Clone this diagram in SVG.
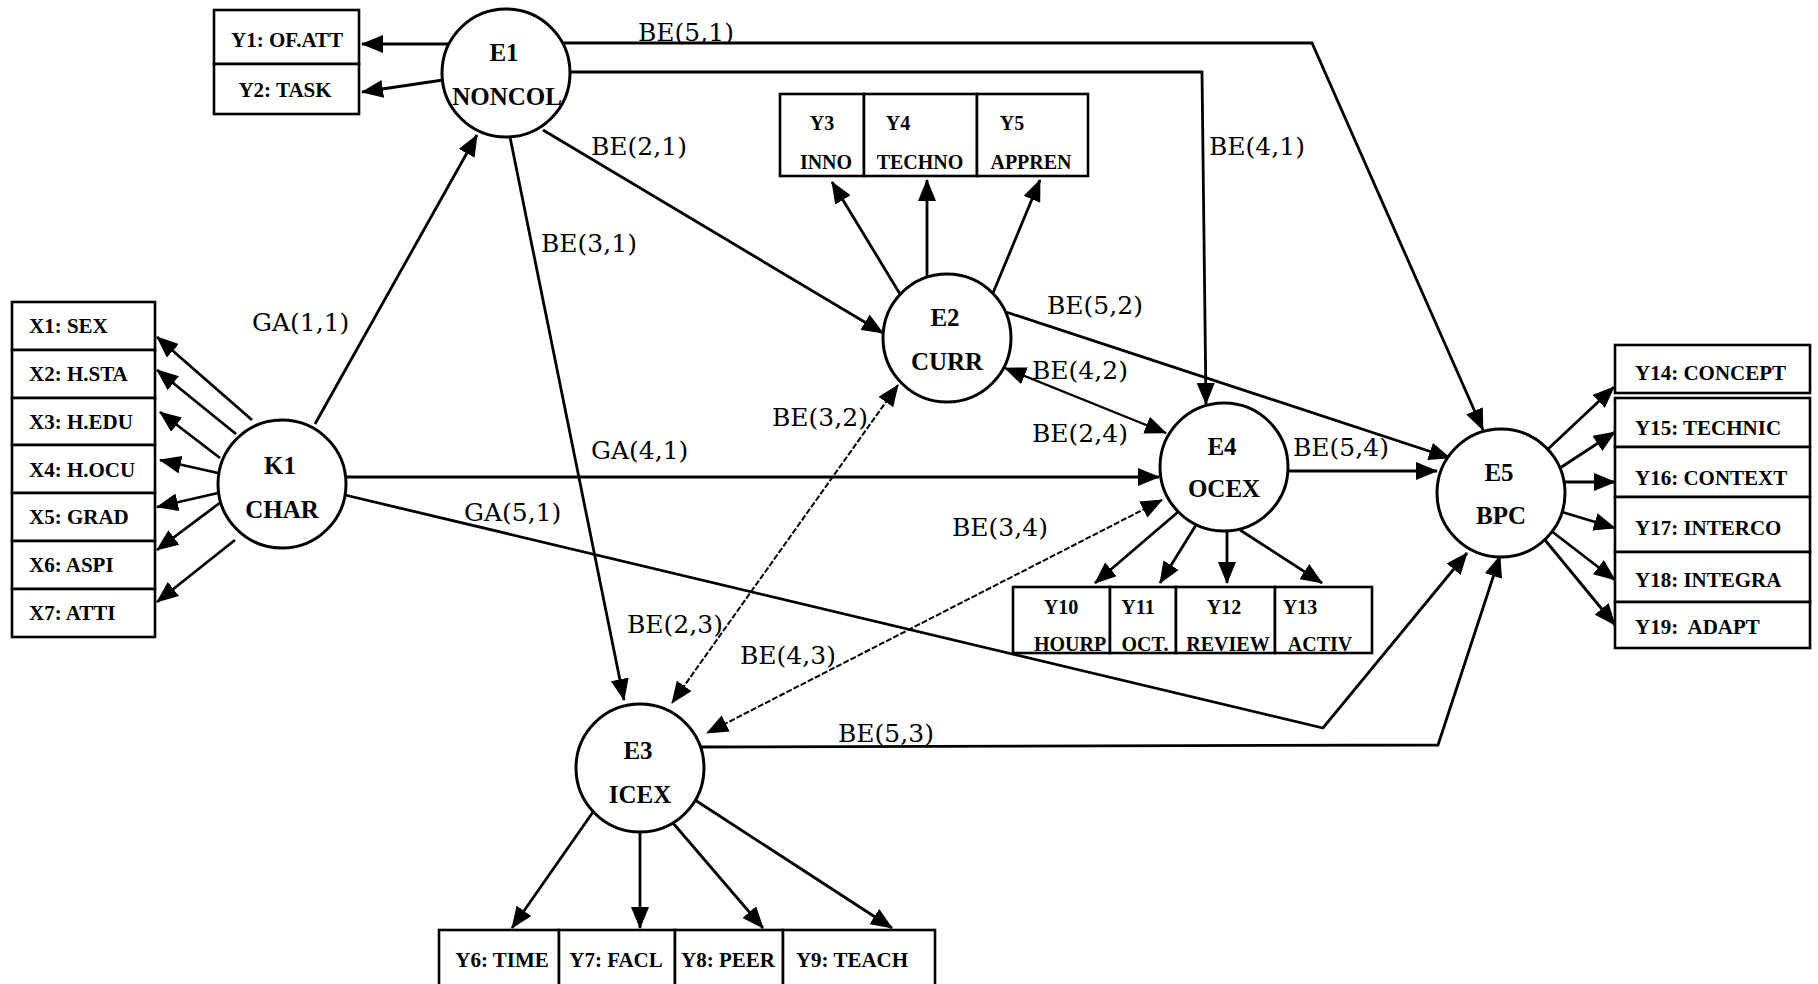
<svg xmlns="http://www.w3.org/2000/svg" width="1818" height="984" viewBox="0 0 1818 984">
<style>
.box{fill:#fff;stroke:#000;stroke-width:2.6}
.circ{fill:#fff;stroke:#000;stroke-width:3}
.bx{font-family:"Liberation Serif",serif;font-weight:bold;font-size:21px;fill:#000}
.sm{font-family:"Liberation Serif",serif;font-weight:bold;font-size:20px;fill:#000;text-anchor:middle}
.nd{font-family:"Liberation Serif",serif;font-weight:bold;font-size:25px;fill:#000;text-anchor:middle}
.lb{font-family:"DejaVu Serif",serif;font-size:25px;fill:#000}
.c{fill:none;stroke:#000;stroke-width:2.8}
.d{fill:none;stroke:#000;stroke-width:2;stroke-dasharray:6 2}
.t{stroke-width:2.2}
</style>
<defs>
<marker id="ah" viewBox="0 0 22 18" refX="21" refY="9" markerWidth="22" markerHeight="18" markerUnits="userSpaceOnUse" orient="auto-start-reverse">
<path d="M0,0 L22,9 L0,18 z" fill="#000"/>
</marker>
</defs>
<rect width="1818" height="984" fill="#fff"/>

<g id="connectors">
<path class="c" marker-end="url(#ah)" d="M252,420 L157,337"/>
<path class="c" marker-end="url(#ah)" d="M236,434 L157,370"/>
<path class="c" marker-end="url(#ah)" d="M220,458 L160,412"/>
<path class="c" marker-end="url(#ah)" d="M218,473 L160,460"/>
<path class="c" marker-end="url(#ah)" d="M218,493 L157,507"/>
<path class="c" marker-end="url(#ah)" d="M221,502 L157,550"/>
<path class="c" marker-end="url(#ah)" d="M235,540 L157,602"/>
<path class="c" marker-end="url(#ah)" d="M448,44 L362,44"/>
<path class="c" marker-end="url(#ah)" d="M443,80 L362,92"/>
<path class="c" marker-end="url(#ah)" d="M900,294 L832,182"/>
<path class="c" marker-end="url(#ah)" d="M927,277 L927,180"/>
<path class="c" marker-end="url(#ah)" d="M993,293 L1040,180"/>
<path class="c" marker-end="url(#ah)" d="M593,812 L512,928"/>
<path class="c" marker-end="url(#ah)" d="M640,832 L640,928"/>
<path class="c" marker-end="url(#ah)" d="M673,823 L763,928"/>
<path class="c" marker-end="url(#ah)" d="M695,800 L892,928"/>
<path class="c" marker-end="url(#ah)" d="M1178,512 L1095,583"/>
<path class="c" marker-end="url(#ah)" d="M1196,525 L1160,583"/>
<path class="c" marker-end="url(#ah)" d="M1227,531 L1227,583"/>
<path class="c" marker-end="url(#ah)" d="M1240,530 L1322,583"/>
<path class="c" marker-end="url(#ah)" d="M1548,449 L1614,387"/>
<path class="c" marker-end="url(#ah)" d="M1560,468 L1615,432"/>
<path class="c" marker-end="url(#ah)" d="M1565,482 L1615,482"/>
<path class="c" marker-end="url(#ah)" d="M1562,512 L1615,528"/>
<path class="c" marker-end="url(#ah)" d="M1550,530 L1615,580"/>
<path class="c" marker-end="url(#ah)" d="M1545,540 L1615,625"/>
<path class="c" marker-end="url(#ah)" d="M315,424 L477,135"/>
<path class="c" marker-end="url(#ah)" d="M510,137 L624,700"/>
<path class="c" marker-end="url(#ah)" d="M543,130 L883,333"/>
<path class="c" marker-end="url(#ah)" d="M562,43 L1312,43 L1483,430"/>
<path class="c" marker-end="url(#ah)" d="M570,72 L1202,72 L1206,404"/>
<path class="c" marker-end="url(#ah)" d="M346,477 L1159,477"/>
<path class="c" marker-end="url(#ah)" d="M345,495 L1323,728 L1467,553"/>
<path class="c" marker-end="url(#ah)" d="M701,747 L1438,745 L1500,556"/>
<path class="c" marker-end="url(#ah)" d="M1006,312 L1450,458"/>
<path class="c" marker-end="url(#ah)" d="M1288,471 L1437,471"/>
<path class="c t" marker-start="url(#ah)" marker-end="url(#ah)" d="M1005,368 L1166,433"/>
<path class="d" marker-start="url(#ah)" marker-end="url(#ah)" d="M898,385 L672,703"/>
<path class="d" marker-start="url(#ah)" marker-end="url(#ah)" d="M1162,500 L707,733"/>
<text class="lb" x="638" y="41">BE(5,1)</text>
<text class="lb" x="591" y="155">BE(2,1)</text>
<text class="lb" x="541" y="252">BE(3,1)</text>
<text class="lb" x="1209" y="155">BE(4,1)</text>
<text class="lb" x="252" y="331">GA(1,1)</text>
<text class="lb" x="1047" y="314">BE(5,2)</text>
<text class="lb" x="1032" y="379">BE(4,2)</text>
<text class="lb" x="772" y="426">BE(3,2)</text>
<text class="lb" x="1032" y="442">BE(2,4)</text>
<text class="lb" x="591" y="459">GA(4,1)</text>
<text class="lb" x="1293" y="456">BE(5,4)</text>
<text class="lb" x="464" y="521">GA(5,1)</text>
<text class="lb" x="952" y="536">BE(3,4)</text>
<text class="lb" x="627" y="633">BE(2,3)</text>
<text class="lb" x="740" y="664">BE(4,3)</text>
<text class="lb" x="838" y="742">BE(5,3)</text>
</g>

<g id="K1"><circle class="circ" cx="282" cy="484" r="64"/><text class="nd" x="280" y="474">K1</text><text class="nd" x="282" y="518">CHAR</text></g>
<g id="E1"><circle class="circ" cx="506" cy="73" r="64"/><text class="nd" x="504" y="61">E1</text><text class="nd" x="507" y="105">NONCOL</text></g>
<g id="E2"><circle class="circ" cx="947" cy="338" r="64"/><text class="nd" x="945" y="326">E2</text><text class="nd" x="947" y="370">CURR</text></g>
<g id="E3"><circle class="circ" cx="640" cy="768" r="64"/><text class="nd" x="638" y="759">E3</text><text class="nd" x="640" y="803">ICEX</text></g>
<g id="E4"><circle class="circ" cx="1224" cy="467" r="64"/><text class="nd" x="1222" y="455">E4</text><text class="nd" x="1224" y="497">OCEX</text></g>
<g id="E5"><circle class="circ" cx="1501" cy="493" r="64"/><text class="nd" x="1499" y="481">E5</text><text class="nd" x="1501" y="524">BPC</text></g>

<g id="X1"><rect class="box" x="12" y="302" width="143" height="48"/><text class="bx" x="29" y="333">X1: SEX</text></g>
<g id="X2"><rect class="box" x="12" y="350" width="143" height="48"/><text class="bx" x="29" y="381">X2: H.STA</text></g>
<g id="X3"><rect class="box" x="12" y="398" width="143" height="47"/><text class="bx" x="29" y="429">X3: H.EDU</text></g>
<g id="X4"><rect class="box" x="12" y="445" width="143" height="48"/><text class="bx" x="29" y="477">X4: H.OCU</text></g>
<g id="X5"><rect class="box" x="12" y="493" width="143" height="48"/><text class="bx" x="29" y="524">X5: GRAD</text></g>
<g id="X6"><rect class="box" x="12" y="541" width="143" height="48"/><text class="bx" x="29" y="572">X6: ASPI</text></g>
<g id="X7"><rect class="box" x="12" y="589" width="143" height="48"/><text class="bx" x="29" y="620">X7: ATTI</text></g>

<g id="Y1"><rect class="box" x="214" y="10" width="145" height="54"/><text class="bx" x="287" y="47" text-anchor="middle">Y1: OF.ATT</text></g>
<g id="Y2"><rect class="box" x="214" y="64" width="145" height="50"/><text class="bx" x="285" y="97" text-anchor="middle">Y2: TASK</text></g>

<g id="Y3"><rect class="box" x="780" y="94" width="84" height="82"/><text class="sm" x="822" y="130">Y3</text><text class="sm" x="826" y="169">INNO</text></g>
<g id="Y4"><rect class="box" x="864" y="94" width="113" height="82"/><text class="sm" x="898" y="130">Y4</text><text class="sm" x="920" y="169">TECHNO</text></g>
<g id="Y5"><rect class="box" x="977" y="94" width="111" height="82"/><text class="sm" x="1012" y="130">Y5</text><text class="sm" x="1031" y="169">APPREN</text></g>

<g id="Y6"><rect class="box" x="439" y="930" width="120" height="62"/><text class="bx" x="502" y="967" text-anchor="middle">Y6: TIME</text></g>
<g id="Y7"><rect class="box" x="559" y="930" width="116" height="62"/><text class="bx" x="616" y="967" text-anchor="middle">Y7: FACL</text></g>
<g id="Y8"><rect class="box" x="675" y="930" width="108" height="62"/><text class="bx" x="728" y="967" text-anchor="middle">Y8: PEER</text></g>
<g id="Y9"><rect class="box" x="783" y="930" width="152" height="62"/><text class="bx" x="852" y="967" text-anchor="middle">Y9: TEACH</text></g>

<g id="Y10"><rect class="box" x="1013" y="587" width="97" height="66"/><text class="sm" x="1061" y="614">Y10</text><text class="sm" x="1070" y="651">HOURP</text></g>
<g id="Y11"><rect class="box" x="1110" y="587" width="66" height="66"/><text class="sm" x="1138" y="614">Y11</text><text class="sm" x="1145" y="651">OCT.</text></g>
<g id="Y12"><rect class="box" x="1176" y="587" width="99" height="66"/><text class="sm" x="1224" y="614">Y12</text><text class="sm" x="1228" y="651">REVIEW</text></g>
<g id="Y13"><rect class="box" x="1275" y="587" width="97" height="66"/><text class="sm" x="1300" y="614">Y13</text><text class="sm" x="1320" y="651">ACTIV</text></g>

<g id="Y14"><rect class="box" x="1615" y="345" width="195" height="48"/><text class="bx" x="1635" y="380">Y14: CONCEPT</text></g>
<g id="Y15"><rect class="box" x="1615" y="398" width="195" height="49"/><text class="bx" x="1635" y="435">Y15: TECHNIC</text></g>
<g id="Y16"><rect class="box" x="1615" y="447" width="195" height="50"/><text class="bx" x="1635" y="485">Y16: CONTEXT</text></g>
<g id="Y17"><rect class="box" x="1615" y="497" width="195" height="55"/><text class="bx" x="1635" y="535">Y17: INTERCO</text></g>
<g id="Y18"><rect class="box" x="1615" y="552" width="195" height="50"/><text class="bx" x="1635" y="587">Y18: INTEGRA</text></g>
<g id="Y19"><rect class="box" x="1615" y="602" width="195" height="46"/><text class="bx" x="1635" y="634" xml:space="preserve">Y19:  ADAPT</text></g>
</svg>
